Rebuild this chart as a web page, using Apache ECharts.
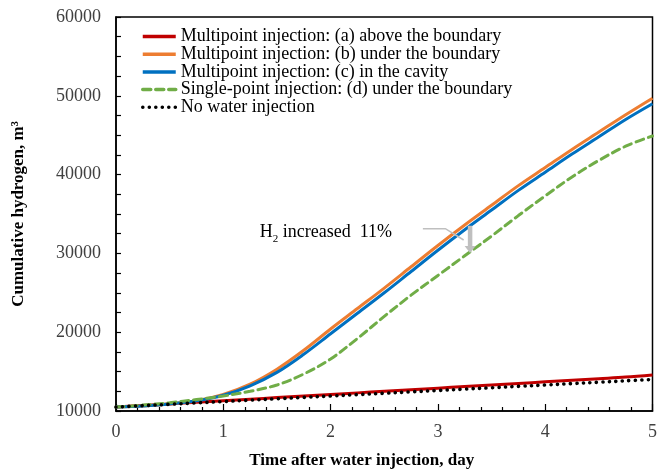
<!DOCTYPE html>
<html>
<head>
<meta charset="utf-8">
<script src="https://cdn.jsdelivr.net/npm/echarts@6/dist/echarts.min.js"></script>
<style>
  html, body { margin: 0; padding: 0; background: #fff; }
  #chart { width: 660px; height: 474px; }
</style>
</head>
<body>
<div id="chart"></div>
<script>
// Time after water injection (day)
const days = [0, 0.25, 0.5, 0.75, 1, 1.25, 1.5, 1.75, 2, 2.25, 2.5, 2.75, 3, 3.25, 3.5, 3.75, 4, 4.25, 4.5, 4.75, 5];

// Cumulative hydrogen (m3) for each injection scheme
const multiAbove = [10500, 10700, 10900, 11100, 11300, 11500, 11700, 11900, 12100, 12300, 12500, 12700, 12900, 13100, 13300, 13500, 13700, 13900, 14100, 14300, 14580];
const multiUnder = [10500, 10650, 10900, 11300, 12100, 13400, 15300, 17700, 20400, 23000, 25600, 28300, 31000, 33600, 36100, 38600, 40900, 43200, 45400, 47600, 49700];
const multiCavity = [10500, 10650, 10900, 11300, 12000, 13200, 14900, 17200, 19800, 22400, 25000, 27700, 30400, 33000, 35500, 38000, 40300, 42600, 44800, 47000, 49000];
const singleUnder = [10500, 10750, 11050, 11450, 11900, 12500, 13300, 14700, 16600, 19200, 22000, 24700, 27200, 29700, 32200, 34800, 37300, 39700, 41800, 43600, 44900];
const noInjection = [10500, 10680, 10850, 11030, 11200, 11380, 11550, 11730, 11900, 12080, 12250, 12430, 12600, 12780, 12950, 13130, 13300, 13480, 13650, 13830, 14000];

const seriesNames = [
  'Multipoint injection: (a) above the boundary',
  'Multipoint injection: (b) under the boundary',
  'Multipoint injection: (c) in the cavity',
  'Single-point injection: (d) under the boundary',
  'No water injection'
];

// Annotation: increase from single-point (d) to multipoint (b)
const noteText = 'increased  11%';
const noteAnchor = [1.34, 32850];
const notePath = [[2.86, 33130], [3.07, 33130], [3.24, 31700]];
const arrowTop = [3.3, 33500];
const arrowBottom = [3.3, 30050];

const serif = '"Liberation Serif", "Times New Roman", serif';

function pairs(ys) { return days.map((d, i) => [d, ys[i]]); }

function lineSeries(name, data, color, type, z, width) {
  return {
    name: name,
    type: 'line',
    data: pairs(data),
    smooth: 0.35,
    symbol: 'none',
    z: z,
    lineStyle: { color: color, width: width, type: type, cap: type === 'solid' ? 'butt' : 'round' },
    itemStyle: { color: color }
  };
}

const chart = echarts.init(document.getElementById('chart'), null, { renderer: 'canvas' });

chart.setOption({
  animation: false,
  backgroundColor: '#fff',
  grid: {
    left: 116, right: 3, top: 17, bottom: 62,
    show: true, borderColor: '#000', borderWidth: 1.5, backgroundColor: 'transparent'
  },
  legend: {
    orient: 'vertical',
    left: 141, top: 27.5,
    padding: 0,
    itemWidth: 33, itemHeight: 12,
    itemGap: -0.3,
    itemStyle: { opacity: 0 },
    lineStyle: { width: 3.5 },
    data: seriesNames,
    textStyle: { fontFamily: serif, fontSize: 18, color: '#000', lineHeight: 16.2 }
  },
  xAxis: {
    type: 'value',
    min: 0, max: 5, interval: 1,
    axisLine: { show: true, lineStyle: { color: '#000', width: 1.5 } },
    axisTick: { show: true, inside: true, length: 7, lineStyle: { color: '#000', width: 1.2 } },
    minorTick: { show: true, splitNumber: 5, length: 4, lineStyle: { color: '#000', width: 1.2 } },
    splitLine: { show: false },
    axisLabel: { margin: 12, fontFamily: serif, fontSize: 18, color: '#404040' },
    name: 'Time after water injection, day',
    nameLocation: 'middle',
    nameGap: 41,
    nameTextStyle: { fontFamily: serif, fontSize: 17, fontWeight: 'bold', color: '#000', padding: [0, 45, 0, 0] }
  },
  yAxis: {
    type: 'value',
    min: 10000, max: 60000, interval: 10000,
    axisLine: { show: true, lineStyle: { color: '#000', width: 1.5 } },
    axisTick: { show: true, inside: true, length: 5, lineStyle: { color: '#000', width: 1.2 } },
    minorTick: { show: true, splitNumber: 4, length: 5, lineStyle: { color: '#000', width: 1.2 } },
    splitLine: { show: false },
    axisLabel: { margin: 15, fontFamily: serif, fontSize: 18, color: '#404040', formatter: v => String(v) },
    name: 'Cumulative hydrogen, m³',
    nameLocation: 'middle',
    nameRotate: 90,
    nameGap: 89,
    nameTextStyle: { fontFamily: serif, fontSize: 17, fontWeight: 'bold', color: '#000' }
  },
  series: [
    lineSeries(seriesNames[0], multiAbove, '#C00000', 'solid', 2, 3),
    lineSeries(seriesNames[1], multiUnder, '#ED7D31', 'solid', 2, 3),
    lineSeries(seriesNames[2], multiCavity, '#0070C0', 'solid', 3, 3),
    lineSeries(seriesNames[3], singleUnder, '#70AD47', [8, 5], 4, 3),
    lineSeries(seriesNames[4], noInjection, '#000000', [0.1, 6.4], 5, 3.6)
  ]
});

// Annotation drawn in data space
const px = p => chart.convertToPixel({ gridIndex: 0 }, p);
const a = px(noteAnchor);
const pathPts = notePath.map(px);
const t = px(arrowTop);
const b = px(arrowBottom);
const shaftW = 4.5, headW = 11, headL = 7;

chart.setOption({
  graphic: [
    {
      type: 'text',
      x: a[0], y: a[1],
      z: 10,
      style: {
        text: '{n|H}{s|2}{n| ' + noteText + '}',
        verticalAlign: 'middle',
        align: 'left',
        rich: {
          n: { fontFamily: serif, fontSize: 18, fill: '#000', lineHeight: 20, verticalAlign: 'bottom' },
          s: { fontFamily: serif, fontSize: 11, fill: '#000', lineHeight: 20, verticalAlign: 'bottom', padding: [0, 0, -4, 0] }
        }
      }
    },
    {
      type: 'polyline',
      z: 9,
      shape: { points: pathPts },
      style: { stroke: '#BFBFBF', lineWidth: 1.5, fill: null }
    },
    {
      type: 'polygon',
      z: 9,
      shape: {
        points: [
          [t[0] - shaftW / 2, t[1]],
          [t[0] + shaftW / 2, t[1]],
          [t[0] + shaftW / 2, b[1] - headL],
          [t[0] + headW / 2, b[1] - headL],
          [b[0], b[1]],
          [t[0] - headW / 2, b[1] - headL],
          [t[0] - shaftW / 2, b[1] - headL]
        ]
      },
      style: { fill: '#BFBFBF', stroke: null }
    }
  ]
});
</script>
</body>
</html>
